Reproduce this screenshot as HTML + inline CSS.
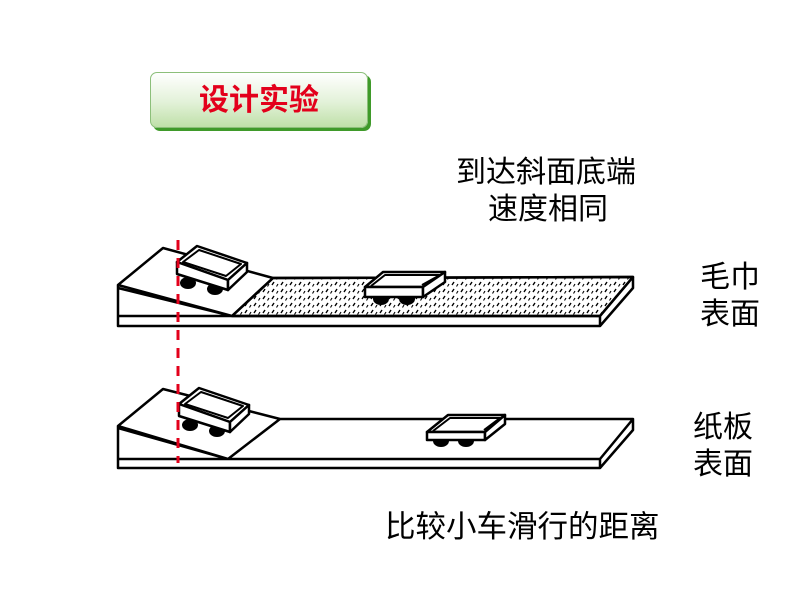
<!DOCTYPE html>
<html><head><meta charset="utf-8"><style>
html,body{margin:0;padding:0;background:#fff;}
body{width:800px;height:600px;position:relative;overflow:hidden;font-family:"Liberation Sans","Noto Sans CJK SC",sans-serif;}
.t{position:absolute;font-size:30px;color:#000;white-space:nowrap;line-height:1;}
.btn{position:absolute;left:150px;top:72px;width:216px;height:54px;border-radius:7px;
background:linear-gradient(#ffffff,#e2f1d8 55%,#bfe0a8);border:1px solid #8cbf7a;box-shadow:3px 3px 0 #3f9a2a;
text-align:center;line-height:56px;font-size:30px;font-weight:bold;color:#e3001b;}
</style></head><body>
<div class="btn">设计实验</div>
<div class="t" style="left:456px;top:158px;">到达斜面底端</div>
<div class="t" style="left:488px;top:195px;">速度相同</div>
<div class="t" style="left:700px;top:263px;">毛巾</div>
<div class="t" style="left:700px;top:300px;">表面</div>
<div class="t" style="left:693px;top:413px;">纸板</div>
<div class="t" style="left:693px;top:450px;">表面</div>
<div class="t" style="left:385px;top:512px;font-size:30.5px;">比较小车滑行的距离</div>
<svg width="800" height="600" style="position:absolute;left:0;top:0" fill="none" stroke="#000" stroke-width="2.5" stroke-linejoin="round">
<defs>
<pattern id="tw" width="9" height="7" patternUnits="userSpaceOnUse">
<path d="M2 5 L4 2" stroke="#000" stroke-width="1.4"/>
<path d="M6.5 6.5 L8 4" stroke="#000" stroke-width="1.1"/>
</pattern>
<g id="car">
<path d="M177 262 L197 246 L247 263 L228 280 Z" fill="#fff"/>
<path d="M183 262 L199 250 L241 264 L226 276 Z" stroke-width="2"/>
<ellipse cx="188" cy="283" rx="8" ry="6" fill="#000" stroke="none"/>
<ellipse cx="215" cy="289" rx="8" ry="6" fill="#000" stroke="none"/>
<path d="M177 262 L228 280 L228 290 L177 274 Z" fill="#fff"/>
<path d="M228 280 L247 263 L247 272 L228 290 Z" fill="#fff"/>
</g>
</defs>
<path d="M273 278 L633 277 L600 316 L232 316 Z" fill="url(#tw)"/>
<path d="M118 285 L163 248 L273 278 L232 316 Z M118 285 L118 326 L600 326 L600 316 L118 316 M118 288 L232 316 M273 278 L633 277 L600 316 M633 277 L633 288 L600 326"/>
<use href="#car"/>
<path d="M365 287 L383 272 L445 272 L423 287 Z" fill="#fff"/>
<path d="M371 286 L385 275 L440 275 L422 285" stroke-width="2"/>
<ellipse cx="381" cy="299" rx="8" ry="6" fill="#000" stroke="none"/>
<ellipse cx="407" cy="299" rx="8" ry="6" fill="#000" stroke="none"/>
<path d="M365 287 L423 287 L423 297 L365 297 Z" fill="#fff"/>
<path d="M423 287 L445 272 L445 282 L423 297 Z" fill="#fff"/>
<path d="M118 426 L163 389 L280 419 L228 459 Z M118 426 L118 468 L600 468 L600 459 L118 459 M118 428 L228 459 M280 419 L633 419 L600 459 M633 419 L633 430 L600 468"/>
<use href="#car" transform="translate(2,142)"/>
<path d="M427 432 L448 415 L505 415 L485 432 Z" fill="#fff"/>
<path d="M433 431 L450 418 L500 418 L484 430" stroke-width="2"/>
<ellipse cx="441" cy="441" rx="8" ry="6" fill="#000" stroke="none"/>
<ellipse cx="466" cy="441" rx="8" ry="6" fill="#000" stroke="none"/>
<path d="M427 432 L485 432 L485 440 L427 440 Z" fill="#fff"/>
<path d="M485 432 L505 415 L505 424 L485 440 Z" fill="#fff"/>
<path d="M178 240 L178 463" stroke="#e3001b" stroke-width="3" stroke-dasharray="10 8"/>
</svg>
</body></html>
